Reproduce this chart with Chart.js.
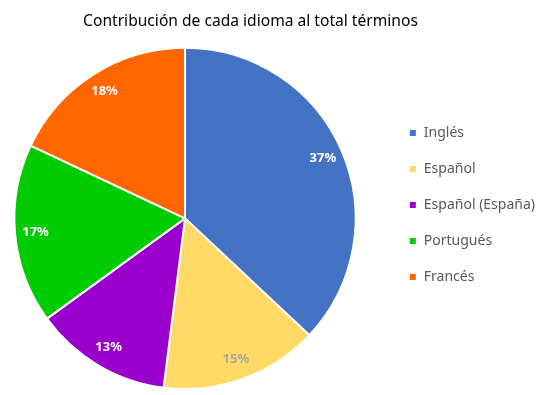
<!DOCTYPE html>
<html>
<head>
<meta charset="utf-8">
<script src="https://cdn.jsdelivr.net/npm/chart.js@4/dist/chart.umd.min.js"></script>
<style>
  html, body { margin: 0; padding: 0; background: #fff; }
  #wrap { width: 539px; height: 395px; position: relative; }
</style>
</head>
<body>
<div id="wrap"><canvas id="pie"></canvas></div>
<script>
// Share of terms contributed by each language (percent).
const TITLE = 'Contribución de cada idioma al total términos';
const languages = ['Inglés', 'Español', 'Español (España)', 'Portugués', 'Francés'];
const shares = [37, 15, 13, 17, 18];
const sliceColors = ['#4472C4', '#FFD966', '#9900CC', '#00CC00', '#FF6600'];
const labelColors = ['#FFFFFF', '#A6A6A6', '#FFFFFF', '#FFFFFF', '#FFFFFF'];

const FONT = '"Noto Sans", "Open Sans", sans-serif';

// Draws the percent label inside each slice, near the rim.
const sliceLabels = {
  id: 'sliceLabels',
  afterDatasetsDraw(chart) {
    const ctx = chart.ctx;
    const meta = chart.getDatasetMeta(0);
    ctx.save();
    ctx.font = 'bold 13px ' + FONT;
    ctx.textAlign = 'center';
    ctx.textBaseline = 'middle';
    meta.data.forEach((arc, i) => {
      const p = arc.getProps(['x', 'y', 'startAngle', 'endAngle', 'outerRadius'], true);
      const mid = (p.startAngle + p.endAngle) / 2;
      const r = p.outerRadius * 0.88;
      ctx.fillStyle = labelColors[i];
      ctx.fillText(shares[i] + '%', p.x + Math.cos(mid) * r, p.y + Math.sin(mid) * r);
    });
    ctx.restore();
  }
};

// Small placement tweaks so pie, title and legend sit where the original has them.
const blockNudge = {
  id: 'blockNudge',
  afterLayout(chart) {
    const a = chart.chartArea;
    a.right = 370;
    a.width = a.right - a.left;
    const t = chart.titleBlock;
    if (t) {
      t.left -= 22;
      t.right -= 22;
    }
    const l = chart.legend;
    if (l) {
      l.top += 4;
      l.bottom += 4;
    }
  }
};

new Chart(document.getElementById('pie'), {
  type: 'pie',
  data: {
    labels: languages,
    datasets: [{
      data: shares,
      backgroundColor: sliceColors,
      borderColor: '#FFFFFF',
      borderWidth: 2
    }]
  },
  options: {
    responsive: true,
    maintainAspectRatio: false,
    animation: false,
    layout: { padding: { left: 0, right: -6, top: 12, bottom: 5 } },
    plugins: {
      title: {
        display: true,
        text: TITLE,
        color: '#000000',
        font: { family: FONT, size: 15.6, weight: 'normal' },
        padding: { top: 0, bottom: 16 }
      },
      legend: {
        position: 'right',
        labels: {
          boxWidth: 8,
          boxHeight: 8,
          padding: 22,
          color: '#595959',
          font: { family: FONT, size: 14 }
        }
      },
      tooltip: { enabled: false }
    }
  },
  plugins: [sliceLabels, blockNudge]
});
</script>
</body>
</html>
